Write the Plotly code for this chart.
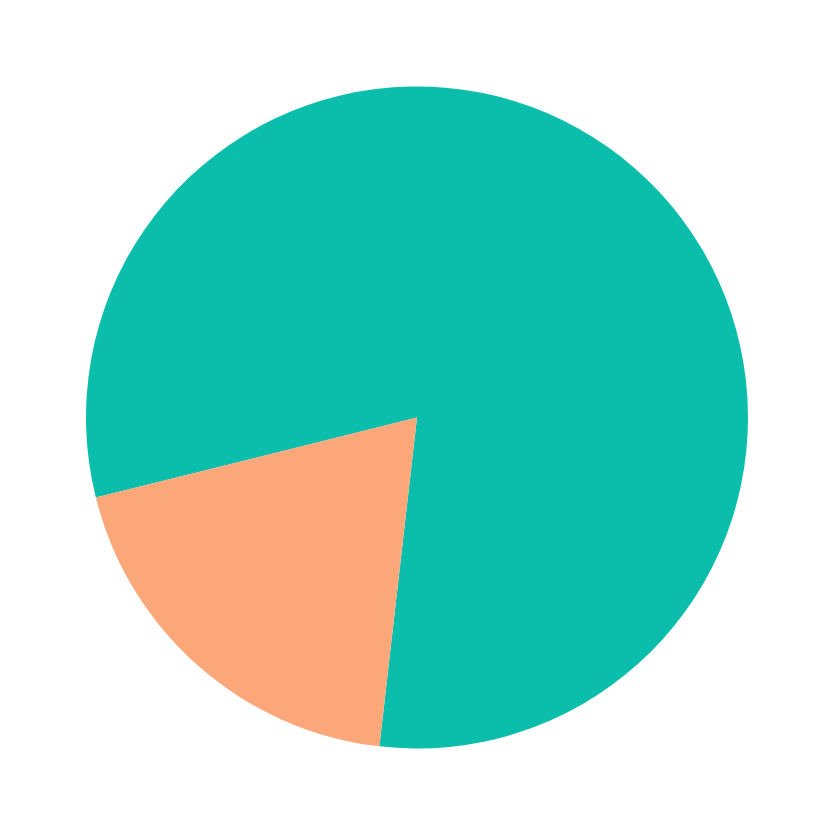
import plotly.graph_objs as go

# slice data
labels = ['A', 'B']
values = [80.7, 19.3]
colors = ['#0abeab', '#fca77a']

pie = go.Pie(
    labels=labels,
    values=values,
    marker=dict(colors=colors, line=dict(width=0)),
    textinfo='none',
    hoverinfo='label+percent',
    rotation=256,
    direction='clockwise',
    sort=False,
)

# the page adds an 8px body margin, so shift the domain up and left
layout = go.Layout(
    width=834,
    height=835,
    showlegend=False,
    margin=dict(l=78, r=94, t=78, b=94),
    paper_bgcolor='white',
)

fig = go.Figure(data=[pie], layout=layout)
fig.write_html("out.html")
